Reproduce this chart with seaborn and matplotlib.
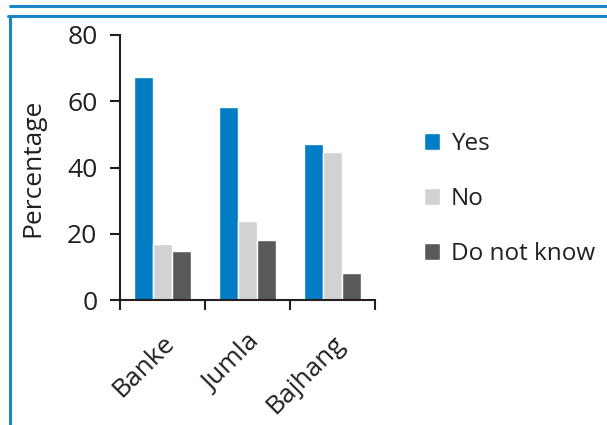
import pandas as pd
import seaborn as sns
import matplotlib.pyplot as plt
from matplotlib.lines import Line2D

# values
districts = ['Banke', 'Jumla', 'Bajhang']
answers = ['Yes', 'No', 'Do not know']
yes = [67.3, 58.3, 47.1]
no = [16.9, 23.8, 44.7]
dont_know = [14.8, 18.1, 8.2]
yticks = [0, 20, 40, 60, 80]

df = pd.DataFrame({
    'District': districts * 3,
    'Answer': [a for a in answers for _ in districts],
    'Percentage': yes + no + dont_know,
})

sns.set_style('white')
plt.rcParams['font.family'] = ['Open Sans', 'DejaVu Sans']
axis_col = '#231f20'
palette = ['#007dc5', '#d1d2d4', '#58595b']
fs = 19

fig = plt.figure(figsize=(6.07, 4.25), dpi=100)
ax = fig.add_axes([120 / 607, 1 - 300 / 425, 255 / 607, 265 / 425])

sns.barplot(data=df, x='District', y='Percentage', hue='Answer',
            palette=palette, width=0.66, saturation=1, ax=ax)

ax.set_ylim(0, 80)
ax.set_xlim(-0.5, 2.5)
ax.set_yticks(yticks)
ax.set_xticks([-0.5, 0.5, 1.5, 2.5], minor=False)
ax.set_xticklabels([])
ax.set_xticks([0, 1, 2], minor=True)
ax.set_xticklabels(districts, minor=True, rotation=45, ha='right',
                   rotation_mode='anchor', fontsize=fs, color=axis_col)
ax.tick_params(axis='x', which='minor', bottom=False, length=0, pad=22)
ax.tick_params(axis='x', which='major', bottom=True, direction='out',
               length=7.2, width=1.5, color=axis_col)
ax.tick_params(axis='y', left=True, direction='out', length=7.2, width=1.5,
               color=axis_col, labelsize=fs, labelcolor=axis_col, pad=9)
ax.set_xlabel('')
ax.set_ylabel('Percentage', fontsize=fs, color=axis_col, labelpad=16)
for s in ['top', 'right']:
    ax.spines[s].set_visible(False)
for s in ['left', 'bottom']:
    ax.spines[s].set_color(axis_col)
    ax.spines[s].set_linewidth(1.5)

ax.legend(frameon=False, loc='center left',
          bbox_to_anchor=(424 / 607, 1 - 199 / 425),
          bbox_transform=fig.transFigure, borderaxespad=0, borderpad=0,
          fontsize=17.5, handlelength=0.66, handleheight=0.66,
          labelspacing=1.28, handletextpad=0.45, labelcolor=axis_col)

# blue frame lines around the figure
blue = '#1a85c8'
fig.add_artist(Line2D([10 / 607, 1], [1 - 6 / 425] * 2, color=blue, lw=2.2))
fig.add_artist(Line2D([8 / 607, 1], [1 - 16 / 425] * 2, color=blue, lw=2.2))
fig.add_artist(Line2D([9.5 / 607] * 2, [0, 1 - 16 / 425], color=blue, lw=2.2))

fig.savefig('out.png', dpi=100)
